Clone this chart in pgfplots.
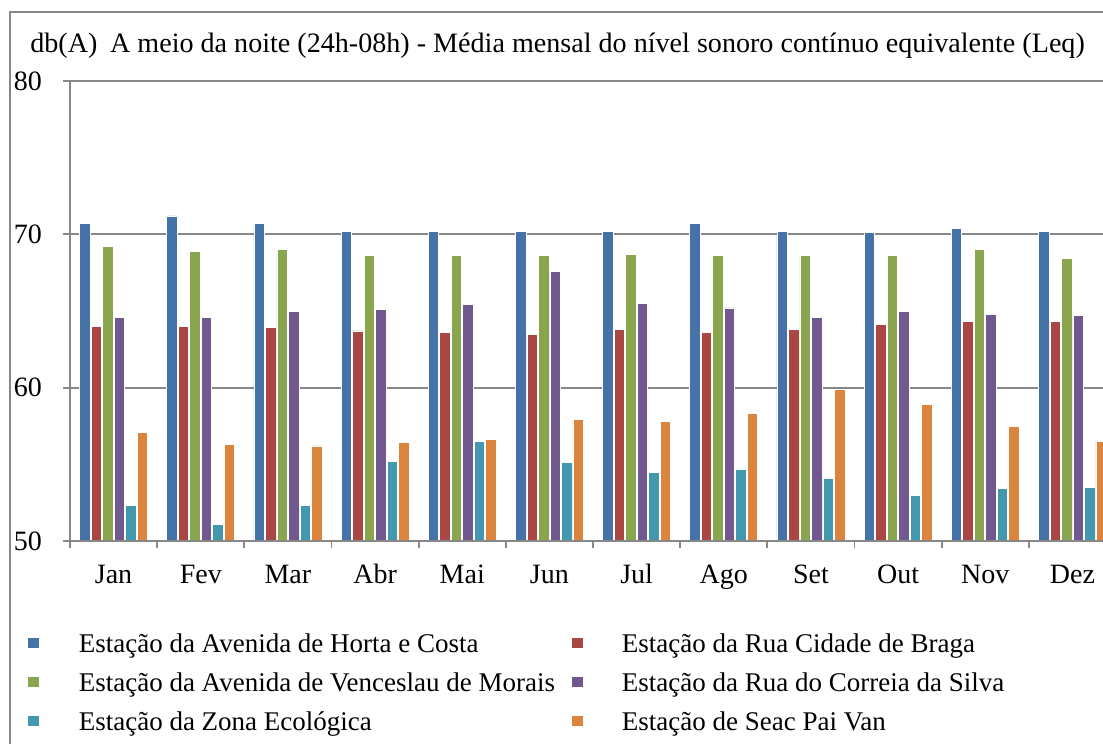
\documentclass[border=0pt]{standalone}
\usepackage{pgfplots}
\pgfplotsset{compat=1.18}
\usepackage{pgfplotstable}
\usepackage{fontspec}
\setmainfont{Liberation Serif}
\definecolor{cblue}{HTML}{4572A7}
\definecolor{cred}{HTML}{AA4643}
\definecolor{cgreen}{HTML}{89A54E}
\definecolor{cpurple}{HTML}{71588F}
\definecolor{cteal}{HTML}{4198AF}
\definecolor{corange}{HTML}{DB843D}
\definecolor{gridgray}{HTML}{888888}
\pgfplotstableread{
x blue red green purple teal orange
0 70.7 64.0 69.2 64.6 52.3 57.1
1 71.2 64.0 68.9 64.6 51.1 56.3
2 70.7 63.9 69.0 65.0 52.3 56.2
3 70.2 63.7 68.6 65.1 55.2 56.4
4 70.2 63.6 68.6 65.4 56.5 56.6
5 70.2 63.5 68.6 67.6 55.1 57.9
6 70.2 63.8 68.7 65.5 54.5 57.8
7 70.7 63.6 68.6 65.2 54.7 58.3
8 70.2 63.8 68.6 64.6 54.1 59.9
9 70.1 64.1 68.6 65.0 53.0 58.9
10 70.4 64.3 69.0 64.8 53.4 57.5
11 70.2 64.3 68.4 64.7 53.5 56.5
}\datatable
\pgfplotsset{
  sqlegend/.style={legend image code/.code={\path[##1, draw=none] (0pt,2.3pt) rectangle (5.5pt,7.3pt); \path (0pt,0pt) -- (17pt,0pt);}},
}
\begin{document}
\begin{tikzpicture}
\useasboundingbox (0pt,0pt) rectangle (551.5pt,-372pt);
\clip (0pt,0pt) rectangle (551.5pt,-372pt);
\draw[gridgray, line width=0.9pt] (5pt,-6pt) rectangle (600pt,-420pt);
\node[anchor=base west, inner sep=0pt, font=\fontsize{14.05pt}{16pt}\selectfont] at (15pt,-26pt)
  {db(A)\hspace{0.45em}A meio da noite (24h-08h) - Média mensal do nível sonoro contínuo equivalente (Leq)};
\begin{axis}[
  at={(35pt,-270.5pt)}, anchor=south west,
  width=523pt, height=230pt, scale only axis,
  ymin=50, ymax=80, xmin=-0.5, xmax=11.5,
  ytick={50,60,70,80},
  ymajorgrids,
  grid style={gridgray, line width=0.9pt},
  axis x line=bottom, axis y line=left,
  axis line style={-, gridgray, line width=0.9pt},
  tick align=outside,
  major tick length=3.5pt, minor tick length=3.5pt,
  tick style={gridgray, line width=0.9pt},
  xtick={0,...,11},
  xticklabels={Jan,Fev,Mar,Abr,Mai,Jun,Jul,Ago,Set,Out,Nov,Dez},
  major x tick style={draw=none},
  minor xtick={-0.5,0.5,...,11.5},
  /pgf/number format/assume math mode=true,
  tick label style={font=\fontsize{14pt}{16pt}\selectfont, black},
  yticklabel style={xshift=-7pt},
  xticklabel style={text height=9.5pt, text depth=2.5pt, yshift=-4.5pt},
  ybar=0.5pt, bar width=5.25pt,
  legend columns=2,
  legend style={at={(axis description cs:-0.04015,-0.2022)}, anchor=north west,
    draw=none, fill=none, inner sep=0pt, outer sep=0pt,
    column sep=8pt, row sep=8.5pt,
    font=\fontsize{13.5pt}{15pt}\selectfont,
    nodes={inner sep=0pt, anchor=base west}},
  legend cell align=left,
]
\addplot[fill=cblue, draw=white, line width=0.4pt, sqlegend] table[x=x,y=blue]{\datatable};
\addlegendentry{Estação da Avenida de Horta e Costa}
\addplot[fill=cred, draw=white, line width=0.4pt, sqlegend] table[x=x,y=red]{\datatable};
\addlegendentry{Estação da Rua Cidade de Braga}
\addplot[fill=cgreen, draw=white, line width=0.4pt, sqlegend] table[x=x,y=green]{\datatable};
\addlegendentry{Estação da Avenida de Venceslau de Morais}
\addplot[fill=cpurple, draw=white, line width=0.4pt, sqlegend] table[x=x,y=purple]{\datatable};
\addlegendentry{Estação da Rua do Correia da Silva}
\addplot[fill=cteal, draw=white, line width=0.4pt, sqlegend] table[x=x,y=teal]{\datatable};
\addlegendentry{Estação da Zona Ecológica}
\addplot[fill=corange, draw=white, line width=0.4pt, sqlegend] table[x=x,y=orange]{\datatable};
\addlegendentry{Estação de Seac Pai Van}
\draw[gridgray, line width=0.9pt] (rel axis cs:0,0) -- (rel axis cs:1,0);
\end{axis}
\end{tikzpicture}
\end{document}
